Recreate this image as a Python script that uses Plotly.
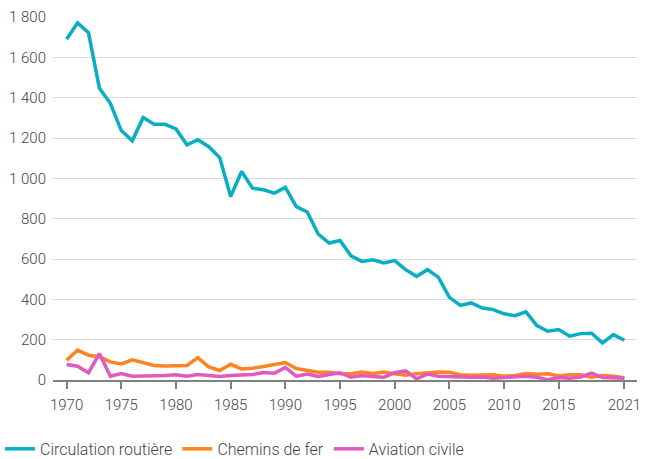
import plotly.graph_objects as go

years = list(range(1970, 2022))

routiere = [1690, 1771, 1722, 1447, 1372, 1237, 1186, 1301, 1268, 1268,
            1245, 1166, 1191, 1157, 1103, 910, 1034, 951, 943, 927,
            955, 860, 833, 724, 679, 692, 616, 588, 596, 580,
            592, 547, 514, 547, 509, 410, 370, 382, 357, 349,
            328, 319, 338, 270, 242, 250, 217, 230, 232, 184,
            225, 197]

chemins = [98, 148, 123, 115, 90, 80, 100, 87, 72, 70,
           73, 72, 111, 65, 47, 78, 55, 58, 67, 78,
           87, 57, 49, 39, 39, 31, 31, 39, 32, 39,
           31, 24, 31, 36, 40, 38, 26, 24, 24, 26,
           19, 22, 32, 29, 31, 20, 26, 26, 14, 22,
           19, 11]

aviation = [77, 68, 36, 131, 19, 32, 19, 19, 19, 22,
            26, 19, 27, 24, 17, 22, 25, 27, 37, 34,
            62, 19, 29, 17, 27, 36, 14, 22, 17, 14,
            36, 45, 6, 29, 19, 16, 14, 14, 15, 9,
            12, 14, 19, 14, 2, 12, 9, 15, 34, 12,
            11, 9]

tick_vals = [1970, 1975, 1980, 1985, 1990, 1995, 2000, 2005, 2010, 2015, 2021]
y_ticks = [0, 200, 400, 600, 800, 1000, 1200, 1400, 1600, 1800]
y_labels = ["0", "200", "400", "600", "800", "1 000", "1 200", "1 400", "1 600", "1 800"]

series = [
    ("Circulation routière", routiere, "#0AAEC3"),
    ("Chemins de fer", chemins, "#FF8421"),
    ("Aviation civile", aviation, "#E05ABF"),
]

fig = go.Figure()
for name, vals, col in series:
    fig.add_trace(go.Scatter(
        x=years, y=vals, name=name, mode="lines",
        line=dict(color=col, width=3.5),
    ))

font_col = "#444444"
fig.update_layout(
    width=646, height=459,
    margin=dict(l=53, r=5, t=17, b=78.5),
    paper_bgcolor="white", plot_bgcolor="white",
    font=dict(family="Roboto", size=15, color=font_col, weight=300),
    showlegend=True,
    legend=dict(
        orientation="h", xref="container", yref="container",
        x=0.0, y=0.022, xanchor="left", yanchor="middle",
        font=dict(size=16, color=font_col, weight=300),
        itemwidth=30, traceorder="normal",
    ),
    xaxis=dict(
        range=[1968.756, 2022.153],
        tickmode="array", tickvals=tick_vals,
        ticktext=[str(v) for v in tick_vals],
        showgrid=False, zeroline=False,
        showline=True, linecolor="#808080", linewidth=1.5,
        ticks="outside", ticklen=7, tickcolor="#808080", tickwidth=1.5,
        ticklabelstandoff=3,
    ),
    yaxis=dict(
        range=[0, 1800],
        tickmode="array", tickvals=y_ticks, ticktext=y_labels,
        showgrid=True, gridcolor="#dcdcdc", gridwidth=1,
        zeroline=False, showline=False,
        ticks="", ticklabelstandoff=6,
    ),
)

fig.write_html("out.html", config={"displayModeBar": False},
               post_script="document.body.style.margin='0';")
